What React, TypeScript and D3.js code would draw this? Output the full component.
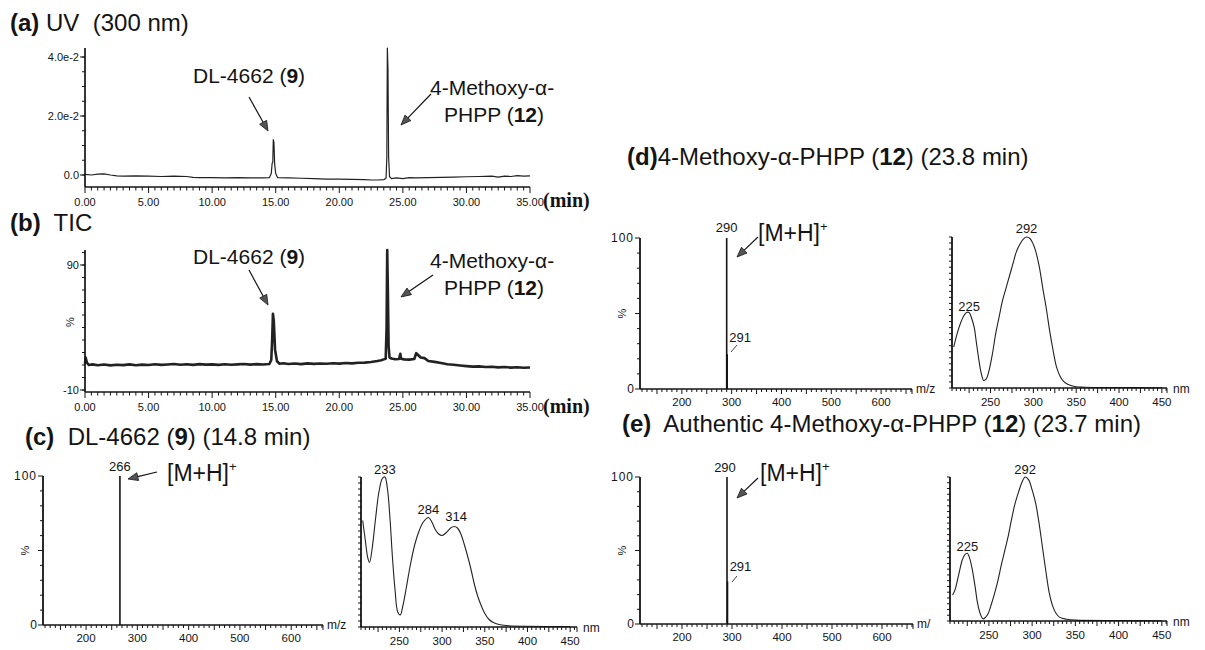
import React from 'react';
import * as d3 from 'd3';

const FONT = "'Liberation Sans', Arial, Helvetica, sans-serif";
const INK = '#141414';

// ---------- chromatogram axes ----------
const chromTicks = [0, 5, 10, 15, 20, 25, 30, 35];
const uvChromYTicks = [0, 2, 4];
const uvChromYLabels = ['0.0', '2.0e-2', '4.0e-2'];
const ticYTicks = [-10, 90];
const ticYLabels = ['-10', '90'];

// (a) UV 300 nm chromatogram: [time (min), absorbance x 1e-2]
const uvChrom: [number, number][] = [
  [0, 0.02], [0.5, 0.0], [1, 0.03], [1.5, 0.04], [2, 0.0], [2.5, -0.03], [3, -0.04], [4, -0.03],
  [5, -0.04], [6, -0.05], [7, -0.04], [8, -0.05], [8.5, -0.08], [9, -0.09], [10, -0.09], [11, -0.1],
  [12, -0.09], [13, -0.1], [14, -0.1], [14.5, -0.09], [14.65, 0.05], [14.72, 0.4], [14.77, 0.42],
  [14.81, 1.2], [14.86, 1.1], [14.92, 0.35], [15.0, 0.05], [15.15, -0.09], [16, -0.1], [17, -0.11],
  [18, -0.12], [19, -0.14], [20, -0.14], [21, -0.15], [22, -0.16], [22.5, -0.17], [23, -0.17],
  [23.5, -0.16], [23.68, -0.1], [23.74, 0.6], [23.78, 4.4], [23.83, 3.6], [23.88, 0.6], [23.95, -0.05],
  [24.1, -0.12], [24.5, -0.1], [25, -0.12], [25.5, -0.09], [26, -0.1], [27, -0.09], [28, -0.08],
  [29, -0.07], [30, -0.06], [31, -0.05], [32, -0.04], [32.5, -0.07], [33, -0.04], [33.5, -0.05],
  [34, -0.02], [34.5, -0.04], [35, -0.03],
];

// (b) TIC: [time (min), %]
const ticChrom: [number, number][] = [
  [0, 11], [0.05, 16], [0.15, 12], [0.3, 10], [0.6, 10.5], [1, 9.8], [1.5, 10.4], [2, 9.7], [2.5, 10.2],
  [3, 9.9], [3.5, 10.5], [4, 9.8], [4.5, 10.3], [5, 10], [5.5, 10.6], [6, 10.1], [6.5, 10.4], [7, 10.8],
  [7.5, 10.2], [8, 10.6], [8.5, 10.1], [9, 10.7], [9.5, 10.3], [10, 10.5], [10.5, 10.1], [11, 10.6],
  [11.5, 10.2], [12, 10.5], [12.5, 10.8], [13, 10.3], [13.5, 10.7], [14, 10.4], [14.5, 10.8],
  [14.65, 14], [14.72, 30], [14.78, 51], [14.85, 45], [14.95, 22], [15.1, 13], [15.3, 11],
  [15.6, 11.4], [16, 10.8], [16.5, 11.2], [17, 10.7], [17.5, 11.3], [18, 10.9], [18.5, 11.2],
  [19, 11], [19.5, 11.4], [20, 11.1], [20.5, 11.6], [21, 11.3], [21.5, 11.8], [22, 11.9],
  [22.5, 12.4], [23, 13.2], [23.3, 13.8], [23.5, 14.5], [23.65, 15], [23.72, 40], [23.77, 103],
  [23.82, 70], [23.88, 25], [23.95, 16], [24.1, 15.2], [24.4, 14.6], [24.7, 14.8], [24.8, 19],
  [24.86, 15], [25.1, 14.5], [25.5, 14.3], [25.9, 14.8], [26.05, 19.5], [26.2, 18], [26.4, 16],
  [26.7, 15.5], [27, 13.2], [27.5, 12.5], [28, 11.6], [28.5, 10.6], [29, 10.2], [29.5, 9.6],
  [30, 9.1], [30.5, 8.7], [31, 8.9], [31.5, 8.4], [32, 8.6], [32.5, 8.1], [33, 8.4], [33.5, 7.9],
  [34, 8.2], [34.5, 7.8], [35, 8],
];

// ---------- spectra axes ----------
const msTicks = [200, 300, 400, 500, 600];
const nmTicks = [250, 300, 350, 400, 450];

// mass spectra sticks: m/z, relative intensity (%)
const msPeaksC = [{ mz: 266, rel: 100 }];
const msPeaksD = [{ mz: 290, rel: 100 }, { mz: 291, rel: 23 }];
const msPeaksE = [{ mz: 290, rel: 100 }, { mz: 291, rel: 29 }];

// UV spectra: [wavelength (nm), relative absorbance (%)]
const uvSpecC: [number, number][] = [
  [207, 71], [210, 58], [213, 46], [215, 43], [218, 52], [222, 72], [226, 90], [230, 99], [233, 100],
  [236, 92], [239, 72], [242, 45], [245, 24], [248, 10], [251, 8], [254, 14], [258, 26], [263, 42],
  [268, 55], [273, 64], [278, 70], [284, 73], [288, 70], [292, 65], [296, 62], [300, 61], [305, 63],
  [310, 66], [314, 67], [318, 66], [322, 62], [326, 55], [330, 47], [334, 38], [338, 28], [342, 20],
  [346, 14], [350, 9], [355, 5], [360, 3], [368, 1.5], [378, 0.8], [400, 0.5], [450, 0.3],
];
const uvSpecD: [number, number][] = [
  [207, 27], [211, 36], [215, 43], [219, 48], [222, 50], [225, 50], [228, 46], [231, 40], [233, 32],
  [236, 20], [239, 10], [242, 5], [245, 6], [248, 11], [252, 22], [256, 36], [260, 47], [264, 58],
  [268, 66], [272, 74], [276, 82], [280, 90], [284, 95], [288, 98.5], [292, 100], [296, 99], [300, 95],
  [303, 90], [307, 80], [311, 66], [315, 53], [319, 38], [323, 25], [327, 14], [331, 8], [335, 4.5],
  [340, 2.5], [348, 1], [360, 0.5], [400, 0.3], [450, 0.2],
];
const uvSpecE: [number, number][] = [
  [208, 18], [211, 22], [215, 32], [219, 42], [222, 46], [225, 47], [228, 43], [231, 35], [234, 24],
  [237, 12], [240, 5], [243, 1.5], [246, 2.5], [249, 5], [253, 12], [256, 18], [260, 27], [264, 38],
  [268, 48], [272, 58], [276, 70], [280, 81], [284, 89], [288, 96], [292, 100], [296, 98], [300, 91],
  [304, 82], [308, 68], [312, 51], [316, 34], [320, 19], [324, 10], [328, 5], [332, 2.5], [340, 1.2],
  [350, 0.6], [400, 0.3], [450, 0.2],
];

type Lin = d3.ScaleLinear<number, number>;

function Arrow({ x1, y1, x2, y2 }: { x1: number; y1: number; x2: number; y2: number }) {
  const a = Math.atan2(y2 - y1, x2 - x1);
  const L = 10, w = 4;
  const bx = x2 - L * Math.cos(a), by = y2 - L * Math.sin(a);
  const p1 = [bx + w * Math.sin(a), by - w * Math.cos(a)];
  const p2 = [bx - w * Math.sin(a), by + w * Math.cos(a)];
  return (
    <g>
      <line x1={x1} y1={y1} x2={bx} y2={by} stroke={INK} strokeWidth={1.2} />
      <polygon points={`${x2},${y2} ${p1[0]},${p1[1]} ${p2[0]},${p2[1]}`} fill="#555" stroke={INK} strokeWidth={0.8} />
    </g>
  );
}

function Chrom({ x, y, top, axisY, data, yTicks, yLabels, yMinorStep, strokeWidth }: {
  x: Lin; y: Lin; top: number; axisY: number; data: [number, number][]; yTicks: number[]; yLabels: string[];
  yMinorStep: number; strokeWidth: number;
}) {
  const line = d3.line<[number, number]>().x(d => x(d[0])).y(d => Math.max(top, y(d[1])));
  const x0 = x(0);
  const minorX = d3.range(0, 35.0001, 0.5);
  const lo = y.invert(axisY), hi = y.invert(top);
  const minorY = d3.range(Math.ceil(lo / yMinorStep) * yMinorStep, hi + 1e-6, yMinorStep);
  return (
    <g>
      <path d={line(data) || ''} fill="none" stroke="#222" strokeWidth={strokeWidth} strokeLinejoin="round" />
      <line x1={x0} x2={x0} y1={top} y2={axisY} stroke={INK} strokeWidth={1.7} />
      <line x1={x0} x2={x(35)} y1={axisY} y2={axisY} stroke={INK} strokeWidth={1.5} />
      {minorX.map(t => (
        <line key={'mx' + t} x1={x(t)} x2={x(t)} y1={axisY} y2={axisY + (t % 5 === 0 ? 6 : 3.5)} stroke={INK} strokeWidth={1} />
      ))}
      {chromTicks.map(t => (
        <text key={'lx' + t} x={x(t)} y={axisY + 19} textAnchor="middle" fontSize={11} fill={INK}>{t.toFixed(2)}</text>
      ))}
      {minorY.map(v => (
        <line key={'my' + v} x1={x0 - 3} x2={x0} y1={y(v)} y2={y(v)} stroke={INK} strokeWidth={1} />
      ))}
      {yTicks.map((v, i) => (
        <g key={'ly' + v}>
          <line x1={x0 - 5} x2={x0} y1={y(v)} y2={y(v)} stroke={INK} strokeWidth={1} />
          <text x={x0 - 6} y={y(v) + 4} textAnchor="end" fontSize={11} fill={INK}>{yLabels[i]}</text>
        </g>
      ))}
    </g>
  );
}

function MS({ x, y, peaks, unit }: { x: Lin; y: Lin; peaks: { mz: number; rel: number }[]; unit: string }) {
  const [d0, d1] = x.domain();
  const [r0, r1] = x.range();
  const ay = y(0), top = y(100);
  const minorX = d3.range(Math.ceil(d0 / 10) * 10, d1, 10);
  const minorY = d3.range(0, 100.001, 10);
  return (
    <g>
      {peaks.map(p => (
        <line key={p.mz} x1={x(p.mz)} x2={x(p.mz)} y1={ay} y2={y(p.rel)} stroke={INK} strokeWidth={1.6} />
      ))}
      <line x1={r0} x2={r0} y1={top} y2={ay} stroke={INK} strokeWidth={1.8} />
      <line x1={r0} x2={r1} y1={ay} y2={ay} stroke={INK} strokeWidth={1.6} />
      {minorX.map(v => (
        <line key={'mx' + v} x1={x(v)} x2={x(v)} y1={ay} y2={ay + (v % 50 === 0 ? 5 : 3)} stroke={INK} strokeWidth={1} />
      ))}
      <line x1={r1} x2={r1} y1={ay} y2={ay + 5} stroke={INK} strokeWidth={1} />
      {msTicks.map(v => (
        <text key={'lx' + v} x={x(v)} y={ay + 17} textAnchor="middle" fontSize={11.5} fill={INK}>{v}</text>
      ))}
      {minorY.map(v => (
        <line key={'my' + v} x1={r0 - (v % 50 === 0 ? 5 : 3)} x2={r0} y1={y(v)} y2={y(v)} stroke={INK} strokeWidth={1} />
      ))}
      <text x={r0 - 6} y={top + 4} textAnchor="end" fontSize={12} letterSpacing={1} fill={INK}>100</text>
      <text x={r0 - 6} y={ay + 4} textAnchor="end" fontSize={12} fill={INK}>0</text>
      <text transform={`translate(${r0 - 14},${y(50)}) rotate(-90)`} textAnchor="middle" fontSize={11} fill={INK}>%</text>
      <text x={r1 + 4} y={ay + 4} fontSize={12} fill={INK}>{unit}</text>
    </g>
  );
}

function UVSpec({ x, y, data }: { x: Lin; y: Lin; data: [number, number][] }) {
  const [d0, d1] = x.domain();
  const [r0, r1] = x.range();
  const ay = y(0), top = y(100);
  const line = d3.line<[number, number]>().x(d => x(d[0])).y(d => y(d[1])).curve(d3.curveCatmullRom.alpha(0.5));
  const minorX = d3.range(Math.ceil(d0 / 5) * 5, d1, 5);
  const minorY = d3.range(0, 100.001, 4);
  return (
    <g>
      <path d={line(data) || ''} fill="none" stroke="#222" strokeWidth={1.1} />
      <line x1={r0} x2={r0} y1={top} y2={ay} stroke={INK} strokeWidth={1.8} />
      <line x1={r0} x2={r1} y1={ay} y2={ay} stroke={INK} strokeWidth={1.6} />
      {minorX.map(v => (
        <line key={'mx' + v} x1={x(v)} x2={x(v)} y1={ay} y2={ay + (v % 25 === 0 ? 5 : 3)} stroke={INK} strokeWidth={1} />
      ))}
      <line x1={r1} x2={r1} y1={ay} y2={ay + 5} stroke={INK} strokeWidth={1} />
      {nmTicks.map(v => (
        <text key={'lx' + v} x={x(v)} y={ay + 18} textAnchor="middle" fontSize={11.5} fill={INK}>{v}</text>
      ))}
      {minorY.map(v => (
        <line key={'my' + v} x1={r0 - 3} x2={r0} y1={y(v)} y2={y(v)} stroke={INK} strokeWidth={1} />
      ))}
      <text x={r1 + 6} y={ay + 5} fontSize={12} fill={INK}>nm</text>
    </g>
  );
}

const pre: React.CSSProperties = { whiteSpace: 'pre' };

export default function App() {
  // chromatograms
  const xA = d3.scaleLinear().domain([0, 35]).range([85, 530]);
  const yA = d3.scaleLinear().domain([0, 4]).range([175, 57]);
  const yB = d3.scaleLinear().domain([-10, 90]).range([390, 265]);

  // spectra
  const xMsC = d3.scaleLinear().domain([116, 662]).range([43, 323]);
  const yMsC = d3.scaleLinear().domain([0, 100]).range([625, 476]);
  const xUvC = d3.scaleLinear().domain([205, 458]).range([361, 577]);
  const yUvC = d3.scaleLinear().domain([0, 100]).range([627, 477]);

  const xMsD = d3.scaleLinear().domain([116, 662]).range([640, 912]);
  const yMsD = d3.scaleLinear().domain([0, 100]).range([389, 238]);
  const xUvD = d3.scaleLinear().domain([205, 456]).range([952, 1167]);
  const yUvD = d3.scaleLinear().domain([0, 100]).range([388, 237]);

  const xMsE = d3.scaleLinear().domain([116, 662]).range([640, 913]);
  const yMsE = d3.scaleLinear().domain([0, 100]).range([624, 477]);
  const xUvE = d3.scaleLinear().domain([205, 456]).range([950, 1167]);
  const yUvE = d3.scaleLinear().domain([0, 100]).range([621, 477]);

  const big = 21;
  const title = 24;

  return (
    <svg width={1205} height={650} viewBox="0 0 1205 650"
      style={{ position: 'absolute', left: 0, top: 0, background: '#fff' }} fontFamily={FONT}>
      <rect width={1205} height={650} fill="#fff" />

      {/* (a) */}
      <text x={10} y={31} fontSize={title} fill={INK} style={pre}><tspan fontWeight="bold">(a)</tspan> UV  (300 nm)</text>
      <Chrom x={xA} y={yA} top={48} axisY={187} data={uvChrom} yTicks={uvChromYTicks} yLabels={uvChromYLabels}
        yMinorStep={0.5} strokeWidth={1.2} />
      <text x={543} y={207} fontSize={20} fontFamily="'Liberation Serif', 'Times New Roman', serif" fontWeight="bold" fill={INK}>(min)</text>
      <text x={193} y={83} fontSize={big} fill={INK}>DL-4662 (<tspan fontWeight="bold">9</tspan>)</text>
      <Arrow x1={249} y1={97} x2={268} y2={131} />
      <text x={430} y={95} fontSize={big} fill={INK}>4-Methoxy-α-</text>
      <text x={444} y={122} fontSize={big} fill={INK}>PHPP (<tspan fontWeight="bold">12</tspan>)</text>
      <Arrow x1={431} y1={94} x2={401} y2={125} />

      {/* (b) */}
      <text x={10} y={231} fontSize={title} fill={INK} style={pre}><tspan fontWeight="bold">(b)</tspan>  TIC</text>
      <Chrom x={xA} y={yB} top={250} axisY={392} data={ticChrom} yTicks={ticYTicks} yLabels={ticYLabels}
        yMinorStep={10} strokeWidth={2.6} />
      <text transform={`translate(${74},${322}) rotate(-90)`} textAnchor="middle" fontSize={11} fill={INK}>%</text>
      <text x={543} y={413} fontSize={20} fontFamily="'Liberation Serif', 'Times New Roman', serif" fontWeight="bold" fill={INK}>(min)</text>
      <text x={193} y={264} fontSize={big} fill={INK}>DL-4662 (<tspan fontWeight="bold">9</tspan>)</text>
      <Arrow x1={249} y1={270} x2={268} y2={305} />
      <text x={430} y={268} fontSize={big} fill={INK}>4-Methoxy-α-</text>
      <text x={444} y={295} fontSize={big} fill={INK}>PHPP (<tspan fontWeight="bold">12</tspan>)</text>
      <Arrow x1={433} y1={275} x2={401} y2={297} />

      {/* (c) */}
      <text x={25} y={445} fontSize={title} fill={INK} style={pre}><tspan fontWeight="bold">(c)</tspan>  DL-4662 (<tspan fontWeight="bold">9</tspan>) (14.8 min)</text>
      <MS x={xMsC} y={yMsC} peaks={msPeaksC} unit="m/z" />
      <text x={xMsC(266)} y={471} textAnchor="middle" fontSize={13} fill={INK}>266</text>
      <text x={167} y={481} fontSize={23} fill={INK}>[M+H]<tspan dy={-10} fontSize={13}>+</tspan></text>
      <Arrow x1={157} y1={472} x2={128} y2={479} />
      <UVSpec x={xUvC} y={yUvC} data={uvSpecC} />
      <text x={xUvC(233)} y={474} textAnchor="middle" fontSize={13} fill={INK}>233</text>
      <text x={xUvC(284)} y={514} textAnchor="middle" fontSize={13} fill={INK}>284</text>
      <text x={xUvC(314) + 2} y={521} textAnchor="middle" fontSize={13} fill={INK}>314</text>

      {/* (d) */}
      <text x={627} y={165} fontSize={title} fill={INK}><tspan fontWeight="bold">(d)</tspan>4-Methoxy-α-PHPP (<tspan fontWeight="bold">12</tspan>) (23.8 min)</text>
      <MS x={xMsD} y={yMsD} peaks={msPeaksD} unit="m/z" />
      <text x={xMsD(290)} y={232} textAnchor="middle" fontSize={13} fill={INK}>290</text>
      <text x={xMsD(291) + 13} y={342} textAnchor="middle" fontSize={13} fill={INK}>291</text>
      <line x1={731} y1={352} x2={737} y2={345} stroke={INK} strokeWidth={0.8} />
      <text x={758} y={241} fontSize={23} fill={INK}>[M+H]<tspan dy={-10} fontSize={13}>+</tspan></text>
      <Arrow x1={758} y1={237} x2={737} y2={257} />
      <UVSpec x={xUvD} y={yUvD} data={uvSpecD} />
      <text x={xUvD(292)} y={233} textAnchor="middle" fontSize={13} fill={INK}>292</text>
      <text x={xUvD(225)} y={311} textAnchor="middle" fontSize={13} fill={INK}>225</text>

      {/* (e) */}
      <text x={622} y={432} fontSize={title} fill={INK} style={pre}><tspan fontWeight="bold">(e)</tspan>  Authentic 4-Methoxy-α-PHPP (<tspan fontWeight="bold">12</tspan>) (23.7 min)</text>
      <MS x={xMsE} y={yMsE} peaks={msPeaksE} unit="m/" />
      <text x={xMsE(290) - 2} y={472} textAnchor="middle" fontSize={13} fill={INK}>290</text>
      <text x={xMsE(291) + 13} y={571} textAnchor="middle" fontSize={13} fill={INK}>291</text>
      <line x1={732} y1={582} x2={737} y2={576} stroke={INK} strokeWidth={0.8} />
      <text x={760} y={481} fontSize={23} fill={INK}>[M+H]<tspan dy={-10} fontSize={13}>+</tspan></text>
      <Arrow x1={758} y1={478} x2={737} y2={498} />
      <UVSpec x={xUvE} y={yUvE} data={uvSpecE} />
      <text x={xUvE(292)} y={474} textAnchor="middle" fontSize={13} fill={INK}>292</text>
      <text x={xUvE(225)} y={551} textAnchor="middle" fontSize={13} fill={INK}>225</text>
    </svg>
  );
}
